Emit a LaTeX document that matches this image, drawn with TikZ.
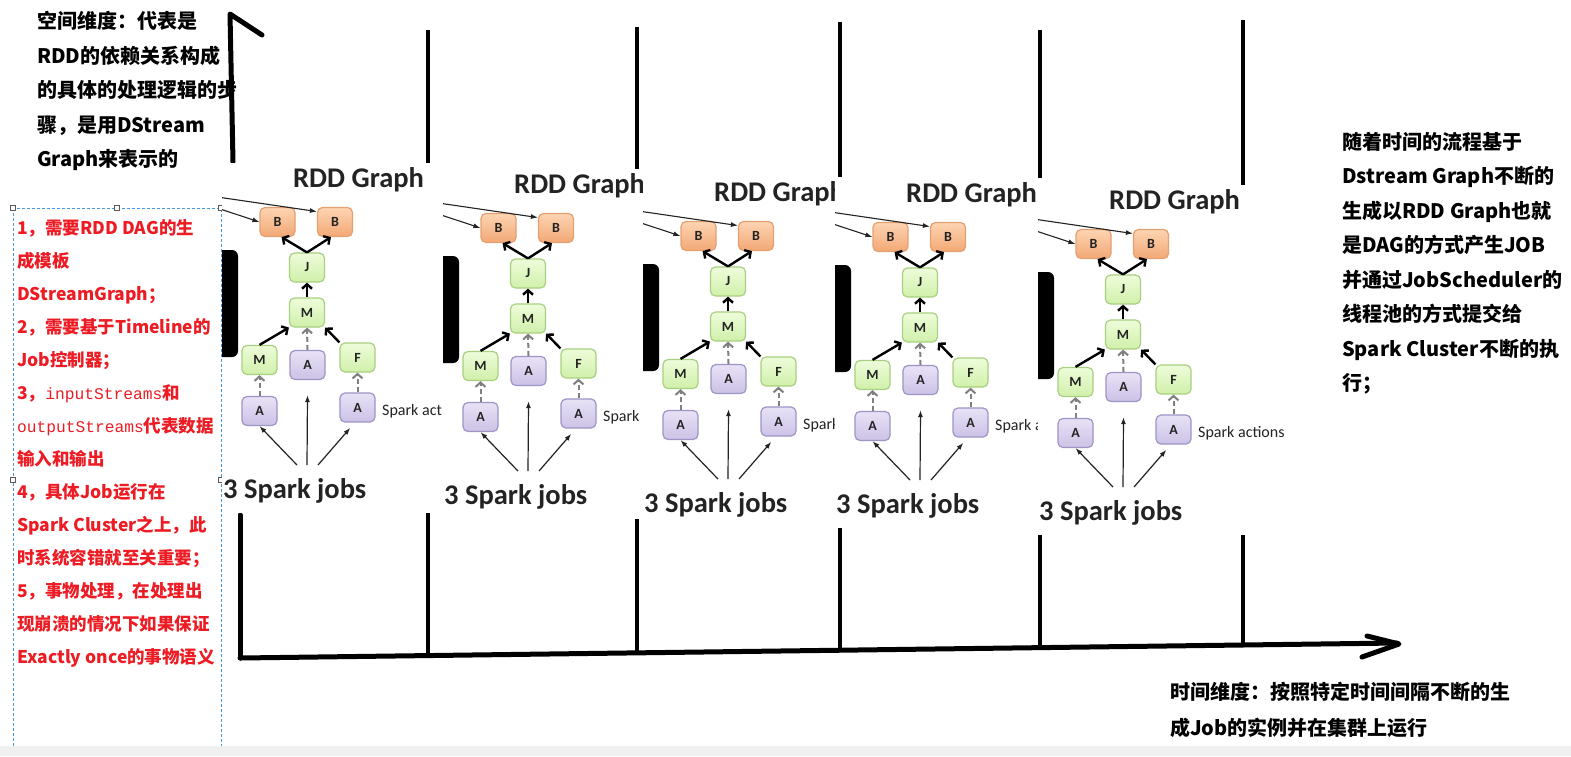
\documentclass[tikz,border=0pt]{standalone}
\usepackage{fontspec}
\usepackage{xcolor}
\usepackage{tikz}
\usetikzlibrary{arrows.meta}
\newfontfamily\cjk{Noto Sans CJK SC}
\newfontfamily\calfont{Carlito}
\newfontfamily\codefont{Liberation Mono}
\definecolor{noteRed}{RGB}{237,28,36}
\definecolor{boxBlue}{RGB}{70,150,230}
\definecolor{gripGray}{RGB}{90,90,90}
\definecolor{stripGray}{RGB}{240,240,240}
\definecolor{figtxt}{RGB}{35,35,35}
\definecolor{bTop}{RGB}{253,212,178}
\definecolor{bBot}{RGB}{243,168,118}
\definecolor{bLine}{RGB}{228,160,112}
\definecolor{gTop}{RGB}{238,252,218}
\definecolor{gBot}{RGB}{208,240,170}
\definecolor{gLine}{RGB}{168,208,128}
\definecolor{pTop}{RGB}{232,226,246}
\definecolor{pBot}{RGB}{204,194,230}
\definecolor{pLine}{RGB}{158,148,198}
\tikzset{
  axisln/.style ={draw=black, line width=5pt, line cap=round, line join=round},
  tickln/.style ={draw=black, line width=4pt},
  blk/.style    ={font=\cjk\bfseries\fontsize{20}{34.5}\selectfont, align=left, inner sep=0pt, anchor=north west},
  redtxt/.style ={font=\cjk\bfseries\fontsize{17.5}{33}\selectfont, text=noteRed, align=left, inner sep=0pt, anchor=north west},
  selbox/.style ={draw=boxBlue, line width=0.8pt, dash pattern=on 3pt off 2pt},
  selgrip/.style={draw=gripGray, fill=white, line width=0.8pt},
  rddbox/.style ={rounded corners=5pt, minimum width=35pt, minimum height=29pt, inner sep=0pt, line width=1.2pt, font=\calfont\bfseries\fontsize{14}{14}\selectfont, text=figtxt},
  rddorange/.style={rddbox, draw=bLine, top color=bTop, bottom color=bBot},
  rddgreen/.style ={rddbox, draw=gLine, top color=gTop, bottom color=gBot},
  rddpurple/.style={rddbox, draw=pLine, top color=pTop, bottom color=pBot},
  ttl/.style    ={font=\calfont\bfseries\fontsize{28.5}{28.5}\selectfont, text=figtxt, inner sep=0pt, anchor=base west},
  jobtxt/.style ={font=\calfont\bfseries\fontsize{28.5}{28.5}\selectfont, text=figtxt, inner sep=0pt, anchor=base west},
  acttxt/.style ={font=\calfont\fontsize{16}{16}\selectfont, text=figtxt, inner sep=0pt, anchor=base west},
  dag/.style    ={draw=black, line width=2.4pt, -{Straight Barb[length=4.5pt,width=10pt]}},
  dep/.style    ={draw=gray, line width=2pt, dash pattern=on 5pt off 3pt, -{Straight Barb[length=4.5pt,width=10pt]}},
  job/.style    ={draw=figtxt, line width=1.2pt, -{Latex[length=7pt,width=5pt]}},
  inc/.style    ={draw=figtxt, line width=1.1pt, -{Latex[length=7pt,width=5pt]}},
}
\newcommand\rddpanel[4]{%
  \begin{scope}[shift={(#2,#3)}]
  \clip (222,163) rectangle (485,513);
  \fill[white] (222,163) rectangle (485,513);
  \fill[black, rounded corners=6pt] (210,250) rectangle (238,357);
  \node[ttl] (#1t) at (293,187) {RDD Graph};
  \node[rddorange] (#1bl) at (277.5,222) {B};
  \node[rddorange] (#1br) at (335,222) {B};
  \node[rddgreen] (#1j) at (307,267.5) {J};
  \node[rddgreen] (#1m) at (307,312.5) {M};
  \node[rddgreen] (#1ml) at (259.5,360) {M};
  \node[rddpurple] (#1am) at (307.5,365) {A};
  \node[rddgreen] (#1f) at (357.5,357.5) {F};
  \node[rddpurple] (#1al) at (259.5,411) {A};
  \node[rddpurple] (#1ar) at (357.5,407.5) {A};
  \node[acttxt] (#1sa) at (382,415) {#4};
  \node[jobtxt] (#1jb) at (223,498) {3 Spark jobs};
  \coordinate (#1i1) at (190,193);
  \coordinate (#1i2) at (190,199);
  \coordinate (#1s) at (307,465);
  \draw[inc] (#1i1) -- (#1br.150);
  \draw[inc] (#1i2) -- (#1bl.west);
  \draw[dag] (#1j.north) -- (#1bl.-75);
  \draw[dag] (#1j.north) -- (#1br.-105);
  \draw[dag] (#1m.north) -- (#1j.south);
  \draw[dag] (#1ml.north) -- (#1m.south west);
  \draw[dag] (#1f.north west) -- (#1m.south east);
  \draw[dep] (#1am.north) -- (#1m.south);
  \draw[dep] (#1al.north) -- (#1ml.south);
  \draw[dep] (#1ar.north) -- (#1f.south);
  \draw[job] ([xshift=-10pt]#1s) -- (#1al.south);
  \draw[job] (#1s) -- ([yshift=-15pt]#1am.south);
  \draw[job, shorten >=7pt] ([xshift=11pt]#1s) -- (#1ar.-100);
  \end{scope}}

\begin{document}
\begin{tikzpicture}[x=1pt,y=-1pt]
  \useasboundingbox (0,0) rectangle (1571,756);
  \fill[white] (0,0) rectangle (1571,756);
  \node[blk] (spacenote) at (37,11) {空间维度：代表是\\RDD的依赖关系构成\\的具体的处理逻辑的步\\骤，是用DStream\\Graph来表示的};
  \node[redtxt] (needs) at (17,219) {1，需要RDD DAG的生\\成模板\\DStreamGraph；\\2，需要基于Timeline的\\Job控制器；\\3，{\codefont\mdseries\fontsize{16.25}{33}\selectfont inputStreams}和\\{\codefont\mdseries\fontsize{16.25}{33}\selectfont outputStreams}代表数据\\输入和输出\\4，具体Job运行在\\Spark Cluster之上，此\\时系统容错就至关重要；\\5，事物处理，在处理出\\现崩溃的情况下如果保证\\Exactly once的事物语义};
  \node[blk] (flownote) at (1342,132) {随着时间的流程基于\\Dstream Graph不断的\\生成以RDD Graph也就\\是DAG的方式产生JOB\\并通过JobScheduler的\\线程池的方式提交给\\Spark Cluster不断的执\\行；};
  \node[blk, font=\cjk\bfseries\fontsize{20}{36}\selectfont] (timenote) at (1170,682) {时间维度：按照特定时间间隔不断的生\\成Job的实例并在集群上运行};
  \draw[axisln] (233,162) -- (230,14) -- (262,35);
  \draw[axisln] (240,515) -- (240,658);
  \draw[axisln] (240,658) -- (1397,643);
  \draw[axisln] (1367,636) -- (1399,644) -- (1362,657);
  \foreach \x/\t/\b in {428/30/655.6, 637/27/652.8, 840/22/650.2, 1040/30/647.6, 1243/20/645}
    \draw[tickln] (\x,\t) -- (\x,\b);
  \draw[selbox] (13,208) rectangle (221,746);
  \foreach \p in {(13,208),(117,208),(221,208),(13,480),(221,480)}
    \draw[selgrip] \p ++(-2.5,-2.5) rectangle ++(5,5);
  \rddpanel{pa}{0}{0}{Spark act}
  \rddpanel{pb}{221}{6}{Spark}
  \rddpanel{pc}{421}{14}{Spark}
  \rddpanel{pd}{613}{15}{Spark a}
  \rddpanel{pe}{816}{22}{Spark actions}
  \fill[stripGray] (0,746) rectangle (1571,756);
\end{tikzpicture}
\end{document}
